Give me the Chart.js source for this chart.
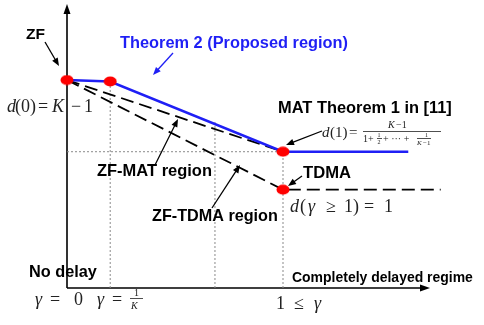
<!DOCTYPE html>
<html>
<head>
<meta charset="utf-8">
<script src="https://cdn.jsdelivr.net/npm/chart.js@4"></script>
<style>
  body { margin: 0; background: #fff; }
  canvas { display: block; }
</style>
</head>
<body>
<canvas id="grafico" width="484" height="325"></canvas>
<script>
// dados do esquema (gamma no eixo x, d no eixo y)
const theorem2Gamma = [0, 0.2, 1, 1.58];
const theorem2D = [7.4, 7.35, 4.85, 4.85];
const zfMatGamma = [0, 1];
const zfMatD = [7.4, 4.85];
const zfTdmaGamma = [0, 1, 1.73];
const zfTdmaD = [7.4, 3.5, 3.5];
const cornerGamma = [0, 0.2, 1, 1];
const cornerD = [7.4, 7.35, 4.85, 3.5];
const guideGamma = [0.2, 0.685, 1];
const guideTop = [7.35, 5.95, 4.85];
const guideLevel = 4.85;

function pares(xs, ys) {
  return xs.map((x, i) => ({ x: x, y: ys[i] }));
}

// ponto vermelho levemente achatado
const pontoVermelho = document.createElement("canvas");
pontoVermelho.width = 14;
pontoVermelho.height = 11;
(function () {
  const c = pontoVermelho.getContext("2d");
  c.fillStyle = "#ff0000";
  c.beginPath();
  c.ellipse(7, 5.5, 6.5, 5, 0, 0, Math.PI * 2);
  c.fill();
})();

const guias = guideGamma.map((g, i) => ({
  type: "scatter",
  showLine: true,
  data: [{ x: g, y: 0 }, { x: g, y: guideTop[i] }],
  borderColor: "#8a8a8a",
  borderWidth: 1,
  borderDash: [2, 2],
  pointRadius: 0,
  order: 4,
}));
guias.push({
  type: "scatter",
  showLine: true,
  data: [{ x: 0, y: guideLevel }, { x: zfMatGamma[1], y: guideLevel }],
  borderColor: "#8a8a8a",
  borderWidth: 1,
  borderDash: [2, 2],
  pointRadius: 0,
  order: 4,
});

// trechos de matemática: [texto, x, itálico, tamanho]
function mat(ctx, partes, y, tamanho) {
  partes.forEach((p) => {
    ctx.font = (p[2] ? "italic " : "") + (p[3] || tamanho) + "px 'Liberation Serif'";
    ctx.fillText(p[0], p[1], y);
  });
}

function barra(ctx, x1, x2, y) {
  ctx.lineWidth = 0.8;
  ctx.strokeStyle = ctx.fillStyle;
  ctx.beginPath();
  ctx.moveTo(x1, y);
  ctx.lineTo(x2, y);
  ctx.stroke();
}

function textoAjustado(ctx, texto, x, y, largura, cor) {
  ctx.font = "bold 14px 'Liberation Sans'";
  const w = ctx.measureText(texto).width;
  const tam = 14 * largura / w;
  ctx.font = "bold " + tam.toFixed(2) + "px 'Liberation Sans'";
  ctx.fillStyle = cor || "#000";
  ctx.textBaseline = "middle";
  ctx.fillText(texto, x, y);
}

function seta(ctx, x1, y1, x2, y2, cor, lw) {
  const ang = Math.atan2(y2 - y1, x2 - x1);
  const L = 8, W = 3.2;
  ctx.strokeStyle = cor;
  ctx.fillStyle = cor;
  ctx.lineWidth = lw || 1.3;
  ctx.setLineDash([]);
  ctx.beginPath();
  ctx.moveTo(x1, y1);
  ctx.lineTo(x2 - Math.cos(ang) * L * 0.8, y2 - Math.sin(ang) * L * 0.8);
  ctx.stroke();
  ctx.beginPath();
  ctx.moveTo(x2, y2);
  ctx.lineTo(x2 - Math.cos(ang) * L - Math.sin(ang) * W, y2 - Math.sin(ang) * L + Math.cos(ang) * W);
  ctx.lineTo(x2 - Math.cos(ang) * L + Math.sin(ang) * W, y2 - Math.sin(ang) * L - Math.cos(ang) * W);
  ctx.closePath();
  ctx.fill();
}

const anotacoes = {
  id: "anotacoes",
  beforeDatasetsDraw(chart) {
    const ctx = chart.ctx;
    const xs = chart.scales.x, ys = chart.scales.y;
    const x0 = xs.getPixelForValue(0), y0 = ys.getPixelForValue(0);
    ctx.save();
    // eixos com setas
    ctx.strokeStyle = "#000";
    ctx.fillStyle = "#000";
    ctx.lineWidth = 1.6;
    ctx.beginPath();
    ctx.moveTo(x0, y0);
    ctx.lineTo(x0, 12);
    ctx.moveTo(x0, y0);
    ctx.lineTo(421, y0);
    ctx.stroke();
    ctx.beginPath();
    ctx.moveTo(x0, 4);
    ctx.lineTo(x0 - 3.5, 14);
    ctx.lineTo(x0 + 3.5, 14);
    ctx.closePath();
    ctx.fill();
    ctx.beginPath();
    ctx.moveTo(430, y0);
    ctx.lineTo(420, y0 - 3.5);
    ctx.lineTo(420, y0 + 3.5);
    ctx.closePath();
    ctx.fill();
    ctx.restore();
  },
  afterDatasetsDraw(chart) {
    const ctx = chart.ctx;
    ctx.save();
    ctx.textAlign = "left";

    textoAjustado(ctx, "ZF", 26, 35, 19);
    textoAjustado(ctx, "Theorem 2 (Proposed region)", 120, 43, 228, "#1f1ff5");
    textoAjustado(ctx, "MAT Theorem 1 in [11]", 278, 108, 174);
    textoAjustado(ctx, "TDMA", 303, 173, 48);
    textoAjustado(ctx, "ZF-MAT region", 97, 171, 115);
    textoAjustado(ctx, "ZF-TDMA region", 152, 217, 126);
    textoAjustado(ctx, "No delay", 29, 272, 68);
    textoAjustado(ctx, "Completely delayed regime", 292, 278, 181);

    seta(ctx, 45, 42, 59, 66, "#000");
    seta(ctx, 173, 53, 153, 75, "#1f1ff5");
    seta(ctx, 155, 165, 178, 119, "#000");
    seta(ctx, 212, 208, 240, 165, "#000");
    seta(ctx, 322, 131, 286, 145, "#000");
    seta(ctx, 302, 176, 288, 186, "#000");

    // fórmulas
    ctx.fillStyle = "#222";
    ctx.textBaseline = "alphabetic";
    mat(ctx, [["d", 7, true], ["(0)", 15], ["=", 38], ["K", 52, true], ["−", 71], ["1", 84]], 112, 18);

    mat(ctx, [["d", 322, true], ["(1)", 330], ["=", 349]], 137, 15);
    mat(ctx, [["K", 388, true, 10], ["−1", 396, false, 10]], 128, 10);
    barra(ctx, 363, 441, 131.5);
    mat(ctx, [["1+", 363], ["+ ··· +", 383]], 142, 10);
    mat(ctx, [["1", 377.5], ["1", 425]], 137, 6);
    mat(ctx, [["2", 377.5]], 144, 6);
    mat(ctx, [["K", 417, true, 7], ["−1", 423, false, 7]], 145, 7);
    barra(ctx, 377, 382, 138.5);
    barra(ctx, 417, 431, 138.5);

    mat(ctx, [["d", 290, true], ["(", 300], ["γ", 308, true], ["≥", 326], ["1)", 344], ["=", 364], ["1", 384]], 212, 18);
    mat(ctx, [["γ", 35, true], ["=", 50], ["0", 74]], 305, 18);
    mat(ctx, [["γ", 97, true], ["=", 112]], 305, 18);
    mat(ctx, [["1", 134]], 296, 10);
    mat(ctx, [["K", 131, true]], 309, 10);
    barra(ctx, 130, 143, 298.5);
    mat(ctx, [["1", 276], ["≤", 294], ["γ", 314, true]], 309, 18);
    ctx.restore();
  },
};

new Chart(document.getElementById("grafico"), {
  type: "scatter",
  data: {
    datasets: [
      {
        data: pares(cornerGamma, cornerD),
        showLine: false,
        pointStyle: pontoVermelho,
        pointRadius: 6,
        clip: false,
        order: 0,
      },
      {
        data: pares(theorem2Gamma, theorem2D),
        showLine: true,
        borderColor: "#1f1ff5",
        borderWidth: 2.6,
        pointRadius: 0,
        clip: false,
        order: 1,
      },
      {
        data: pares(zfMatGamma, zfMatD),
        showLine: true,
        borderColor: "#000",
        borderWidth: 1.8,
        borderDash: [13, 6],
        pointRadius: 0,
        order: 2,
      },
      {
        data: pares(zfTdmaGamma, zfTdmaD),
        showLine: true,
        borderColor: "#000",
        borderWidth: 1.8,
        borderDash: [13, 6],
        pointRadius: 0,
        order: 2,
      },
      ...guias,
    ],
  },
  options: {
    responsive: false,
    animation: false,
    layout: { padding: { left: 67, right: 28.2, top: 5, bottom: 37 } },
    plugins: { legend: { display: false }, tooltip: { enabled: false } },
    scales: {
      x: { type: "linear", min: 0, max: 1.8, display: false },
      y: { type: "linear", min: 0, max: 10, display: false },
    },
  },
  plugins: [anotacoes],
});
</script>
</body>
</html>
